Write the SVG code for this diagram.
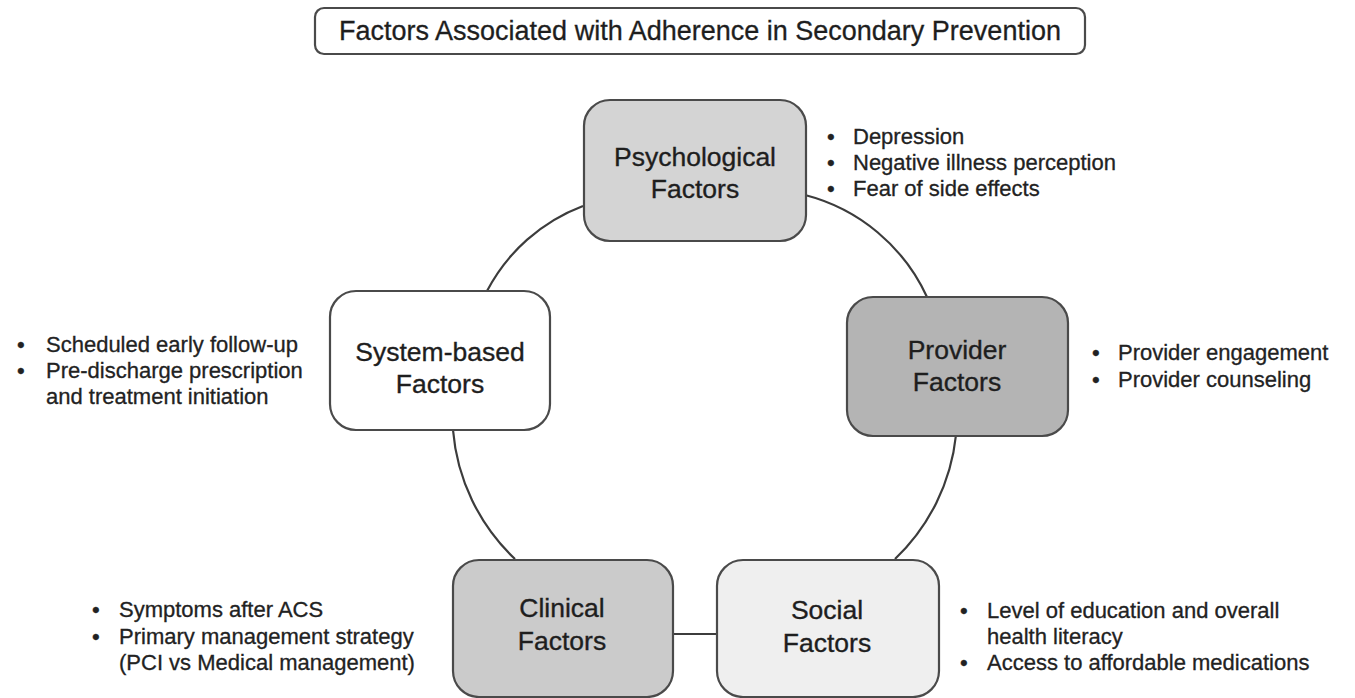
<svg xmlns="http://www.w3.org/2000/svg" width="1355" height="698" viewBox="0 0 1355 698">
<style>
  .box { stroke: #4a4a4a; stroke-width: 2.2; }
  .lbl { font-family: "Liberation Sans", Arial, sans-serif; font-size: 26.5px; fill: #1e1e1e; stroke: #1e1e1e; stroke-width: 0.35; text-anchor: middle; }
  .ttl { font-family: "Liberation Sans", Arial, sans-serif; font-size: 27px; fill: #1e1e1e; stroke: #1e1e1e; stroke-width: 0.3; text-anchor: middle; }
  .bul { font-family: "Liberation Sans", Arial, sans-serif; font-size: 22px; fill: #222222; stroke: #222222; stroke-width: 0.3; }
  .conn { fill: none; stroke: #3c3c3c; stroke-width: 2.2; }
</style>
<rect width="1355" height="698" fill="#ffffff"/>

<g id="title">
  <rect x="315" y="8" width="770" height="46" rx="9" fill="#ffffff" class="box"/>
  <text x="700" y="40" class="ttl">Factors Associated with Adherence in Secondary Prevention</text>
</g>

<g id="connectors">
  <path class="conn" d="M805,195 A185,185 0 0 1 927,297"/>
  <path class="conn" d="M956,435 A200,200 0 0 1 895,559"/>
  <path class="conn" d="M717,634 L673,634"/>
  <path class="conn" d="M515,559 A200,200 0 0 1 453,430"/>
  <path class="conn" d="M487,291 A180,180 0 0 1 583,206"/>
</g>

<g id="psychological">
  <rect x="584" y="100" width="222" height="141" rx="26" fill="#d4d4d4" class="box"/>
  <text x="695" y="166" class="lbl">Psychological</text>
  <text x="695" y="198" class="lbl">Factors</text>
  <text x="827" y="144" class="bul">•</text><text x="853" y="144" class="bul">Depression</text>
  <text x="827" y="170" class="bul">•</text><text x="853" y="170" class="bul">Negative illness perception</text>
  <text x="827" y="196" class="bul">•</text><text x="853" y="196" class="bul">Fear of side effects</text>
</g>

<g id="provider">
  <rect x="847" y="297" width="221" height="139" rx="26" fill="#b4b4b4" class="box"/>
  <text x="957" y="359" class="lbl">Provider</text>
  <text x="957" y="391" class="lbl">Factors</text>
  <text x="1092" y="360" class="bul">•</text><text x="1118" y="360" class="bul">Provider engagement</text>
  <text x="1092" y="387" class="bul">•</text><text x="1118" y="387" class="bul">Provider counseling</text>
</g>

<g id="system">
  <rect x="330" y="291" width="220" height="139" rx="26" fill="#ffffff" class="box"/>
  <text x="440" y="361" class="lbl">System-based</text>
  <text x="440" y="393" class="lbl">Factors</text>
  <text x="17" y="352" class="bul">•</text><text x="46" y="352" class="bul">Scheduled early follow-up</text>
  <text x="17" y="378" class="bul">•</text><text x="46" y="378" class="bul">Pre-discharge prescription</text>
  <text x="46" y="404" class="bul">and treatment initiation</text>
</g>

<g id="clinical">
  <rect x="453" y="560" width="220" height="137" rx="26" fill="#cbcbcb" class="box"/>
  <text x="562" y="617" class="lbl">Clinical</text>
  <text x="562" y="650" class="lbl">Factors</text>
  <text x="92" y="617" class="bul">•</text><text x="119" y="617" class="bul">Symptoms after ACS</text>
  <text x="92" y="644" class="bul">•</text><text x="119" y="644" class="bul">Primary management strategy</text>
  <text x="119" y="670" class="bul">(PCI vs Medical management)</text>
</g>

<g id="social">
  <rect x="717" y="560" width="222" height="137" rx="26" fill="#efefef" class="box"/>
  <text x="827" y="619" class="lbl">Social</text>
  <text x="827" y="652" class="lbl">Factors</text>
  <text x="960" y="618" class="bul">•</text><text x="987" y="618" class="bul">Level of education and overall</text>
  <text x="987" y="644" class="bul">health literacy</text>
  <text x="960" y="670" class="bul">•</text><text x="987" y="670" class="bul">Access to affordable medications</text>
</g>
</svg>
